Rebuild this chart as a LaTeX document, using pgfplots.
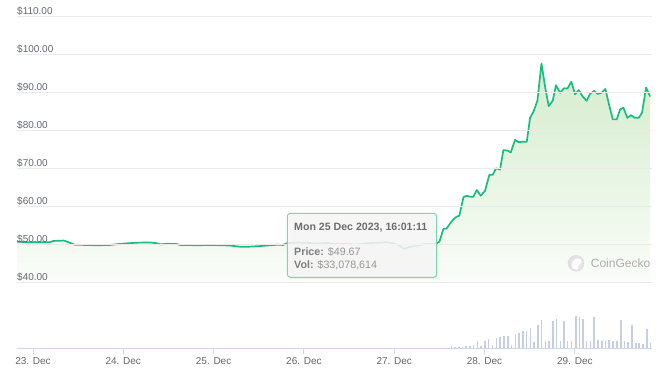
\documentclass[border=0pt]{standalone}
\usepackage{fontspec}
\setmainfont{Liberation Sans}
\usepackage{pgfplots}
\usepackage{pgfplotstable}
\pgfplotsset{compat=1.18}

\definecolor{linec}{RGB}{22,190,128}
\definecolor{gridc}{RGB}{234,234,234}
\definecolor{axisc}{RGB}{204,214,235}
\definecolor{volc}{RGB}{196,207,225}
\definecolor{labc}{RGB}{102,102,102}
\definecolor{ylabc}{RGB}{100,104,115}
\definecolor{tipb}{RGB}{130,212,175}
\definecolor{tipbg}{RGB}{247,247,247}
\definecolor{tiphead}{RGB}{108,108,108}
\definecolor{tipkey}{RGB}{125,125,125}
\definecolor{tipval}{RGB}{150,150,150}
\definecolor{filltop}{RGB}{212,236,204}
\definecolor{fillbot}{RGB}{250,253,249}
\definecolor{wmin}{RGB}{242,242,242}
\definecolor{wmout}{RGB}{222,222,222}
\definecolor{wmhead}{RGB}{252,252,252}
\definecolor{wmtext}{RGB}{172,172,172}

\pgfplotstableread{
t p
-0.18 50.6
-0.03 50.45
0.11 50.45
0.19 50.5
0.225 50.8
0.34 50.9
0.39 50.5
0.465 49.8
0.59 49.75
0.70 49.65
0.85 49.75
1.00 50.1
1.15 50.35
1.30 50.4
1.37 50.2
1.41 49.9
1.48 50.05
1.59 50.0
1.63 49.75
1.70 49.75
1.81 49.65
1.96 49.75
2.11 49.65
2.18 49.6
2.29 49.3
2.40 49.3
2.51 49.45
2.62 49.65
2.70 49.8
2.77 49.75
2.81 50.2
2.92 50.4
3.03 50.3
3.14 50.1
3.25 50.3
3.36 50.0
3.47 50.05
3.58 49.9
3.70 50.2
3.81 50.35
3.92 50.45
3.99 50.2
4.06 49.6
4.10 48.7
4.17 49.2
4.29 49.75
4.36 50.1
4.40 50.0
4.47 50.2
4.50 50.6
4.544 53.95
4.581 54.1
4.618 55.4
4.655 56.5
4.692 57.2
4.721 57.45
4.766 62.3
4.803 62.7
4.839 62.45
4.876 62.45
4.913 64.2
4.958 62.7
5.005 64.0
5.053 68.2
5.09 68.2
5.127 69.9
5.172 69.6
5.208 74.7
5.253 74.6
5.29 74.1
5.338 77.4
5.375 76.8
5.412 76.9
5.467 76.9
5.504 83.2
5.541 84.8
5.585 87.7
5.63 97.5
5.67 91.4
5.71 86.3
5.755 87.7
5.79 91.8
5.836 89.8
5.88 91.0
5.917 90.9
5.961 92.7
6.002 89.4
6.043 90.5
6.087 88.8
6.13 87.7
6.168 89.5
6.213 90.3
6.253 89.5
6.294 89.8
6.338 90.8
6.379 86.6
6.42 82.8
6.464 82.8
6.50 85.4
6.537 85.9
6.581 83.2
6.622 83.9
6.663 83.2
6.708 83.2
6.744 84.6
6.788 91.2
6.833 88.8
}\price

\pgfplotstableread{
t v
4.636 5
4.673 3
4.718 3
4.754 3
4.795 6
4.839 6
4.876 8
4.921 20
4.961 6
5.006 20
5.043 28
5.087 8
5.131 30
5.172 32
5.216 37
5.257 37
5.301 10
5.341 42
5.382 46
5.426 52
5.463 52
5.508 61
5.548 19
5.589 70
5.629 85
5.674 20
5.714 20
5.755 82
5.795 88
5.840 20
5.880 82
5.921 20
5.965 22
6.010 97
6.050 94
6.091 88
6.131 20
6.172 20
6.213 92
6.257 25
6.298 20
6.338 20
6.379 25
6.423 20
6.464 20
6.508 85
6.549 20
6.589 18
6.630 68
6.674 15
6.711 15
6.755 12
6.796 58
6.840 15
}\vol

\begin{document}
\begin{tikzpicture}
\path[use as bounding box, fill=white] (0pt,0pt) rectangle (660pt,379pt);

% price axis
\begin{axis}[
  at={(17pt,97pt)}, anchor=south west, scale only axis,
  width=635pt, height=266pt,
  xmin=-0.177, xmax=6.854, ymin=40, ymax=110,
  axis line style={draw=none},
  xtick=\empty,
  ytick={40,50,...,110},
  yticklabels={\$40.00,\$50.00,\$60.00,\$70.00,\$80.00,\$90.00,\$100.00,\$110.00},
  ymajorgrids, grid style={gridc, line width=0.8pt},
  major tick length=0pt, tick style={draw=none},
  yticklabel style={anchor=base west, inner sep=0pt, yshift=1.3pt,
    font=\fontsize{10}{12}\selectfont, text=ylabc},
  axis on top,
]
\addplot[draw=none, top color=filltop, bottom color=fillbot]
  table[x=t, y=p] {\price} -- (axis cs:6.833,40) -- (axis cs:-0.18,40) -- cycle;
\addplot[linec, line width=1.7pt, line join=round] table[x=t, y=p] {\price};
\end{axis}

% volume axis
\begin{axis}[
  at={(17pt,31pt)}, anchor=south west, scale only axis,
  width=635pt, height=33pt,
  xmin=-0.177, xmax=6.854, ymin=0, ymax=99,
  axis x line*=bottom, axis y line=none,
  x axis line style={draw=axisc, line width=0.9pt, -},
  xtick={0,1,2,3,4,5,6},
  xticklabels={23. Dec,24. Dec,25. Dec,26. Dec,27. Dec,28. Dec,29. Dec},
  tick align=outside, major tick length=6pt,
  xtick style={draw=axisc, line width=0.9pt},
  xticklabel style={font=\fontsize{10}{12}\selectfont, text=labc},
  ytick=\empty,
]
\addplot[ycomb, volc, line width=1.5pt] table[x=t, y=v] {\vol};
\end{axis}

% tooltip
\fill[black, opacity=0.05, rounded corners=3pt] (288.3pt,100.2pt) rectangle (438.2pt,164.7pt);
\draw[rounded corners=3pt, draw=tipb, line width=1pt, fill=tipbg, fill opacity=0.86]
  (287.3pt,101.7pt) rectangle (436.7pt,165.7pt);
\node[anchor=base west, inner sep=0pt, text=tiphead]
  at (294pt,148.6pt) {\fontsize{10.6}{12}\selectfont\bfseries Mon 25 Dec 2023, 16:01:11};
\node[anchor=base west, inner sep=0pt, text=tipval]
  at (294pt,123.1pt) {\fontsize{10.7}{12}\selectfont{\bfseries\color{tipkey}Price:} \$49.67};
\node[anchor=base west, inner sep=0pt, text=tipval]
  at (294pt,110.4pt) {\fontsize{10.7}{12}\selectfont{\bfseries\color{tipkey}Vol:} \$33,078,614};

% watermark
\shade[inner color=wmin, outer color=wmout] (576pt,115.7pt) circle (8.3pt);
\fill[wmhead] (572pt,111pt) .. controls (571pt,117pt) and (574pt,121pt) .. (578.5pt,120.5pt) .. controls (582pt,120pt) and (583pt,117pt) .. (580pt,115.5pt) .. controls (578pt,114.5pt) and (578pt,112pt) .. (578pt,109pt) -- cycle;
\node[anchor=west, inner sep=0pt, text=wmtext]
  at (590.7pt,115.7pt) {\fontsize{12}{14}\selectfont CoinGecko};
\end{tikzpicture}
\end{document}
